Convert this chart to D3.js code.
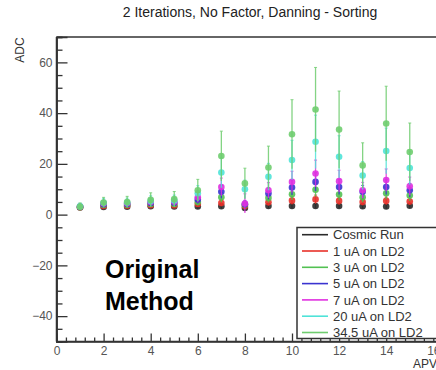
<!DOCTYPE html>
<html><head><meta charset="utf-8">
<script src="https://cdn.jsdelivr.net/npm/d3@7"></script>
<style>body{margin:0;background:#fff}svg{display:block;font-family:"Liberation Sans",Arial,sans-serif}</style>
</head><body><svg id="c" width="436" height="370"></svg>
<script>
const apv = [1,2,3,4,5,6,7,8,9,10,11,12,13,14,15];
const seriesNames = ["Cosmic Run","1 uA on LD2","3 uA on LD2","5 uA on LD2","7 uA on LD2","20 uA on LD2","34.5 uA on LD2"];
const seriesColors = ["#2a2a2a","#e8312a","#52c152","#3a33d0","#e030e0","#4fe3d8","#6fcd6f"];
const cosmic   = [2.8,3.0,3.1,3.3,3.2,3.2,3.3,2.6,3.4,3.4,3.4,3.4,3.3,3.2,3.5];
const cosmicErr= [0.7,0.8,0.8,0.9,0.9,0.9,0.9,0.9,0.9,0.9,0.9,0.9,0.9,0.9,0.9];
const ua1      = [2.9,3.4,3.5,3.7,3.6,4.2,4.6,3.4,4.9,5.5,6.0,5.4,5.0,5.4,5.2];
const ua1Err   = [0.8,0.9,0.9,1.0,1.0,1.1,1.3,1.0,1.3,1.5,1.7,1.5,1.3,1.5,1.4];
const ua3      = [3.0,3.8,3.9,4.2,4.2,5.0,6.8,3.9,6.6,8.0,9.8,7.9,6.8,8.4,7.5];
const ua3Err   = [0.9,1.0,1.0,1.1,1.1,1.4,1.9,1.2,1.8,2.2,2.7,2.2,1.9,2.3,2.1];
const ua5      = [3.1,4.1,4.2,4.6,4.7,6.0,9.0,4.1,8.3,10.7,12.9,10.9,9.0,10.9,9.6];
const ua5Err   = [0.9,1.1,1.2,1.3,1.3,1.6,2.5,1.5,2.3,3.0,3.6,3.0,2.5,3.0,2.7];
const ua7      = [3.2,4.4,4.5,5.0,5.1,6.8,10.9,4.4,9.6,12.9,16.2,13.2,9.6,13.6,11.2];
const ua7Err   = [1.0,1.3,1.3,1.5,1.6,2.0,3.5,3.8,3.0,4.2,5.3,4.3,3.1,4.4,3.6];
const ua20     = [3.3,4.7,4.8,5.4,5.6,8.4,16.6,10.0,14.9,21.5,28.7,22.8,15.4,25.1,18.4];
const ua20Err  = [1.2,1.6,1.7,2.0,2.1,3.0,6.0,3.6,5.3,7.8,10.5,8.3,5.5,9.0,6.6];
const ua345    = [3.1,4.8,5.0,5.8,6.1,9.6,23.1,12.3,18.6,31.7,41.4,33.5,19.4,35.9,24.7];
const ua345Err = [1.5,2.0,2.2,2.8,3.0,4.3,9.8,6.0,8.4,13.6,16.6,15.2,8.9,14.7,11.4];
const xMajorTicks = [0,2,4,6,8,10,12,14,16];
const yMajorTicks = [-40,-20,0,20,40,60];

const values = [cosmic,ua1,ua3,ua5,ua7,ua20,ua345];
const errors = [cosmicErr,ua1Err,ua3Err,ua5Err,ua7Err,ua20Err,ua345Err];

const svg = d3.select("#c");
svg.append("rect").attr("width",436).attr("height",370).attr("fill","#fff");
const L = 56.5, T = 37, B = 341.5;
const x = d3.scaleLinear().domain([0,17]).range([L, L+17*23.55]);
const y = d3.scaleLinear().domain([-50,70]).range([B, T]);
const axisCol = "#333", labCol = "#555";

// title
svg.append("text").attr("x",250).attr("y",17).attr("text-anchor","middle")
  .attr("font-size",14).attr("fill","#222").text("2 Iterations, No Factor, Danning - Sorting");

// data
const g = svg.append("g");
values.forEach((vals,si)=>{
  const col = seriesColors[si];
  const s = g.append("g");
  const pts = apv.map((a,i)=>({a, v:vals[i], e:errors[si][i]}));
  s.selectAll("line.eb").data(pts).join("line").attr("class","eb")
    .attr("x1",d=>x(d.a)).attr("x2",d=>x(d.a))
    .attr("y1",d=>y(d.v-d.e)).attr("y2",d=>y(d.v+d.e))
    .attr("stroke",col).attr("stroke-width",1.3).attr("opacity",0.85);
  s.selectAll("line.cap").data(pts).join("line").attr("class","cap")
    .attr("x1",d=>x(d.a)-1.5).attr("x2",d=>x(d.a)+1.5)
    .attr("y1",d=>y(d.v+d.e)).attr("y2",d=>y(d.v+d.e))
    .attr("stroke",col).attr("stroke-width",1).attr("opacity",0.8);
  s.selectAll("circle").data(pts).join("circle")
    .attr("cx",d=>x(d.a)).attr("cy",d=>y(d.v)).attr("r",3.3)
    .attr("fill",col).attr("opacity",0.9);
});

// frame
svg.append("line").attr("x1",L).attr("x2",436).attr("y1",T).attr("y2",T).attr("stroke",axisCol).attr("stroke-width",1.5);
svg.append("line").attr("x1",L).attr("x2",L).attr("y1",T).attr("y2",B).attr("stroke",axisCol).attr("stroke-width",1.5);

// axes
const xMinor = d3.range(0,17.01,0.4).map(v=>+v.toFixed(1)).filter(v=>!xMajorTicks.includes(v));
const gxm = svg.append("g").attr("transform",`translate(0,${B})`)
  .call(d3.axisBottom(x).tickValues(xMinor).tickSize(-4).tickFormat(""));
const gx = svg.append("g").attr("transform",`translate(0,${B})`)
  .call(d3.axisBottom(x).tickValues(xMajorTicks).tickSize(-8).tickPadding(5).tickFormat(d3.format("d")));
const yMinor = d3.range(-50,70.01,5).filter(v=>!yMajorTicks.includes(v));
const gym = svg.append("g").attr("transform",`translate(${L},0)`)
  .call(d3.axisLeft(y).tickValues(yMinor).tickSize(-6).tickFormat(""));
const gy = svg.append("g").attr("transform",`translate(${L},0)`)
  .call(d3.axisLeft(y).tickValues(yMajorTicks).tickSize(-11).tickPadding(4));
[gx,gxm,gy,gym].forEach(a=>{
  a.selectAll(".domain").attr("stroke",axisCol).attr("stroke-width",1.5);
  a.selectAll(".tick line").attr("stroke",axisCol).attr("stroke-width",1.3);
  a.selectAll("text").attr("fill",labCol).attr("font-size",12).attr("font-family",'"Liberation Sans",Arial,sans-serif');
});
gx.select(".domain").attr("d",`M${L},0H436`);

// axis titles
svg.append("text").attr("transform","translate(24,50) rotate(-90)").attr("text-anchor","middle")
  .attr("font-size",12).attr("fill","#333").text("ADC");
svg.append("text").attr("x",413).attr("y",368).attr("font-size",12).attr("fill","#333").text("APV");

// annotation
const ann = svg.append("text").attr("font-size",25).attr("font-weight","bold").attr("fill","#000");
ann.append("tspan").attr("x",105).attr("y",278).text("Original");
ann.append("tspan").attr("x",105).attr("y",310).text("Method");

// legend
const lg = svg.append("g");
lg.append("rect").attr("x",297).attr("y",227.5).attr("width",200).attr("height",111)
  .attr("fill","#fff").attr("stroke",axisCol).attr("stroke-width",1.5);
seriesNames.forEach((n,i)=>{
  const yy = 234.7 + i*16.3;
  lg.append("line").attr("x1",302).attr("x2",328).attr("y1",yy).attr("y2",yy)
    .attr("stroke",seriesColors[i]).attr("stroke-width",1.6);
  lg.append("text").attr("x",333).attr("y",yy).attr("dy","0.36em").attr("font-size",13)
    .attr("fill","#333").text(n);
});
</script></body></html>
